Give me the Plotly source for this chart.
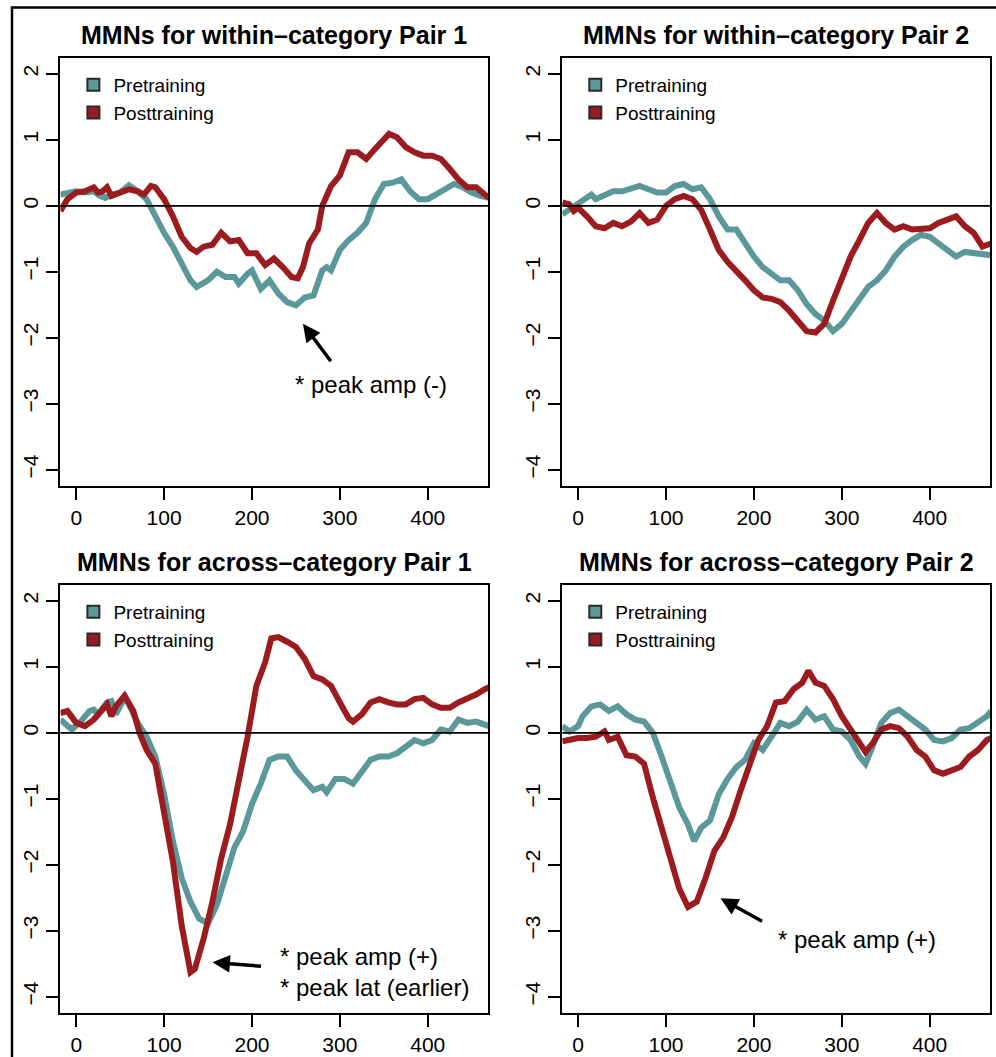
import plotly.graph_objects as go

# ---------------- data (time in ms, amplitude in microvolts) ----------------
p1_pre_t = [-18, -10, 0, 10, 20, 27, 33, 40, 50, 60, 70, 80, 90, 95, 100, 110, 120, 130, 137, 150, 160, 170, 180, 185, 195, 200, 210, 220, 230, 240, 250, 260, 270, 280, 285, 290, 300, 310, 320, 330, 340, 350, 360, 370, 380, 390, 400, 410, 420, 430, 440, 450, 460, 470]
p1_pre_v = [0.17, 0.2, 0.22, 0.2, 0.22, 0.15, 0.12, 0.17, 0.2, 0.31, 0.22, 0.1, -0.16, -0.31, -0.41, -0.62, -0.87, -1.13, -1.23, -1.13, -1.0, -1.08, -1.08, -1.18, -1.03, -0.98, -1.26, -1.13, -1.33, -1.46, -1.51, -1.39, -1.36, -0.98, -0.93, -0.98, -0.67, -0.52, -0.41, -0.26, 0.1, 0.33, 0.35, 0.4, 0.22, 0.1, 0.1, 0.17, 0.25, 0.33, 0.28, 0.2, 0.15, 0.12]

p1_post_t = [-18, -10, 0, 10, 20, 25, 30, 35, 40, 50, 60, 70, 77, 85, 90, 100, 110, 120, 130, 137, 145, 155, 165, 175, 185, 195, 205, 215, 225, 235, 245, 252, 258, 265, 275, 280, 290, 300, 310, 320, 330, 340, 350, 356, 365, 375, 385, 395, 405, 415, 425, 435, 445, 455, 465, 470]
p1_post_v = [-0.08, 0.1, 0.2, 0.22, 0.28, 0.2, 0.22, 0.28, 0.15, 0.2, 0.25, 0.22, 0.17, 0.3, 0.28, 0.1, -0.16, -0.47, -0.64, -0.7, -0.62, -0.59, -0.41, -0.54, -0.52, -0.72, -0.72, -0.9, -0.8, -0.93, -1.08, -1.1, -0.93, -0.57, -0.36, 0.0, 0.3, 0.46, 0.81, 0.81, 0.71, 0.86, 1.02, 1.09, 1.04, 0.89, 0.81, 0.76, 0.76, 0.71, 0.56, 0.4, 0.28, 0.28, 0.17, 0.12]

p2_pre_t = [-18, -10, 0, 10, 15, 20, 30, 40, 50, 60, 70, 80, 90, 100, 110, 120, 130, 140, 150, 160, 170, 180, 190, 200, 210, 220, 230, 240, 250, 260, 270, 280, 290, 300, 310, 320, 330, 340, 350, 360, 370, 380, 390, 400, 410, 420, 430, 440, 450, 460, 470]
p2_pre_v = [-0.13, -0.06, 0.02, 0.1, 0.17, 0.1, 0.17, 0.22, 0.22, 0.25, 0.3, 0.25, 0.2, 0.2, 0.3, 0.33, 0.25, 0.28, 0.1, -0.16, -0.36, -0.36, -0.57, -0.77, -0.93, -1.03, -1.13, -1.13, -1.28, -1.49, -1.64, -1.74, -1.9, -1.79, -1.59, -1.39, -1.23, -1.13, -0.98, -0.77, -0.62, -0.52, -0.44, -0.47, -0.57, -0.67, -0.77, -0.7, -0.72, -0.72, -0.75]

p2_post_t = [-18, -10, -5, 0, 10, 20, 30, 40, 50, 60, 70, 80, 90, 100, 110, 120, 130, 140, 150, 160, 170, 180, 190, 200, 210, 220, 230, 240, 250, 260, 270, 280, 290, 300, 310, 320, 330, 340, 350, 360, 370, 380, 390, 400, 410, 420, 430, 440, 450, 460, 470]
p2_post_v = [0.05, 0.02, -0.08, -0.03, -0.16, -0.31, -0.34, -0.26, -0.31, -0.24, -0.11, -0.26, -0.21, 0.0, 0.1, 0.15, 0.1, -0.06, -0.36, -0.67, -0.85, -0.98, -1.13, -1.28, -1.39, -1.41, -1.46, -1.59, -1.74, -1.9, -1.92, -1.79, -1.44, -1.08, -0.77, -0.52, -0.26, -0.11, -0.26, -0.36, -0.31, -0.36, -0.36, -0.34, -0.26, -0.21, -0.16, -0.31, -0.41, -0.62, -0.57]

p3_pre_t = [-18, -10, -5, 5, 15, 20, 25, 35, 40, 45, 55, 60, 70, 80, 90, 100, 110, 120, 130, 140, 150, 160, 170, 180, 190, 200, 210, 220, 230, 240, 250, 260, 270, 280, 285, 295, 305, 315, 325, 335, 345, 355, 365, 375, 385, 395, 405, 415, 425, 435, 445, 455, 465, 470]
p3_pre_v = [0.2, 0.1, 0.05, 0.17, 0.33, 0.35, 0.28, 0.46, 0.48, 0.28, 0.53, 0.43, 0.15, -0.06, -0.36, -0.93, -1.64, -2.2, -2.56, -2.82, -2.89, -2.61, -2.15, -1.74, -1.49, -1.08, -0.77, -0.41, -0.36, -0.36, -0.57, -0.72, -0.87, -0.82, -0.9, -0.7, -0.7, -0.77, -0.57, -0.41, -0.36, -0.36, -0.31, -0.21, -0.11, -0.16, -0.11, 0.05, 0.02, 0.2, 0.15, 0.17, 0.12, 0.1]

p3_post_t = [-18, -10, 0, 10, 20, 30, 35, 40, 45, 55, 65, 72, 80, 90, 100, 110, 120, 130, 135, 145, 155, 165, 175, 185, 195, 205, 215, 222, 230, 240, 250, 260, 270, 280, 290, 300, 310, 315, 325, 335, 345, 355, 365, 375, 385, 395, 405, 415, 425, 435, 445, 455, 465, 470]
p3_post_v = [0.3, 0.33, 0.15, 0.1, 0.2, 0.35, 0.43, 0.25, 0.4, 0.56, 0.33, 0.0, -0.26, -0.47, -1.18, -1.95, -2.92, -3.63, -3.58, -3.12, -2.56, -1.9, -1.39, -0.77, -0.06, 0.71, 1.07, 1.43, 1.45, 1.38, 1.3, 1.12, 0.86, 0.81, 0.71, 0.46, 0.22, 0.17, 0.28, 0.46, 0.51, 0.46, 0.43, 0.43, 0.51, 0.53, 0.43, 0.38, 0.38, 0.46, 0.51, 0.58, 0.66, 0.69]

p4_pre_t = [-18, -10, 0, 5, 15, 25, 35, 45, 55, 65, 75, 85, 95, 105, 115, 125, 132, 140, 150, 160, 170, 180, 190, 200, 210, 220, 230, 240, 250, 260, 270, 280, 290, 300, 310, 320, 327, 335, 345, 355, 365, 375, 385, 395, 405, 415, 425, 435, 445, 455, 465, 470]
p4_pre_v = [0.1, 0.02, 0.1, 0.25, 0.4, 0.43, 0.33, 0.4, 0.28, 0.2, 0.17, 0.0, -0.36, -0.77, -1.13, -1.39, -1.64, -1.44, -1.33, -0.93, -0.7, -0.52, -0.41, -0.16, -0.26, -0.06, 0.15, 0.1, 0.17, 0.35, 0.2, 0.25, 0.05, 0.02, -0.11, -0.36, -0.47, -0.21, 0.15, 0.3, 0.35, 0.25, 0.15, 0.05, -0.11, -0.13, -0.08, 0.05, 0.07, 0.15, 0.25, 0.33]

p4_post_t = [-18, 0, 10, 20, 30, 35, 45, 55, 65, 75, 85, 95, 105, 115, 125, 135, 145, 155, 165, 175, 185, 195, 205, 215, 225, 235, 245, 255, 262, 270, 280, 290, 300, 310, 320, 327, 335, 345, 355, 365, 375, 385, 395, 405, 415, 425, 435, 445, 455, 465, 470]
p4_post_v = [-0.13, -0.08, -0.08, -0.06, 0.02, -0.11, -0.06, -0.34, -0.36, -0.47, -0.98, -1.44, -1.9, -2.36, -2.64, -2.56, -2.2, -1.79, -1.59, -1.28, -0.87, -0.47, -0.11, 0.1, 0.46, 0.48, 0.66, 0.76, 0.94, 0.76, 0.71, 0.51, 0.25, 0.05, -0.16, -0.29, -0.16, 0.05, 0.1, 0.07, -0.06, -0.26, -0.36, -0.57, -0.62, -0.57, -0.52, -0.36, -0.26, -0.11, -0.08]

panel_titles = ["MMNs for within\u2013category Pair 1", "MMNs for within\u2013category Pair 2",
                "MMNs for across\u2013category Pair 1", "MMNs for across\u2013category Pair 2"]
series_names = ["Pretraining", "Posttraining"]
x_ticks = [0, 100, 200, 300, 400]
y_ticks = [-4, -3, -2, -1, 0, 1, 2]

panels = [
    (p1_pre_t, p1_pre_v, p1_post_t, p1_post_v),
    (p2_pre_t, p2_pre_v, p2_post_t, p2_post_v),
    (p3_pre_t, p3_pre_v, p3_post_t, p3_post_v),
    (p4_pre_t, p4_pre_v, p4_post_t, p4_post_v),
]

# ---------------- styling / layout ----------------
W, H = 996, 1057
TEAL = "#5A9899"
RED = "#9C1B1F"
FONT = "Liberation Sans, Arial, Helvetica, sans-serif"

def fx(px):
    return px / W

def fy(py):
    return 1 - py / H

col_px = [(60.4, 488.0), (562.3, 990.0)]
row_px = [(58.0, 485.5), (585.0, 1012.5)]

fig = go.Figure()
layout = dict(
    width=W, height=H, margin=dict(l=0, r=0, t=0, b=0),
    paper_bgcolor="white", plot_bgcolor="white",
    font=dict(family=FONT, color="black"),
    showlegend=True,
)
annotations = []
shapes = []

for i, (pt, pv, qt, qv) in enumerate(panels):
    r, c = divmod(i, 2)
    n = i + 1
    xa = "x" if n == 1 else f"x{n}"
    ya = "y" if n == 1 else f"y{n}"
    xkey = "xaxis" if n == 1 else f"xaxis{n}"
    ykey = "yaxis" if n == 1 else f"yaxis{n}"
    lkey = "legend" if n == 1 else f"legend{n}"
    x0p, x1p = col_px[c]
    y0p, y1p = row_px[r]

    layout[xkey] = dict(
        domain=[fx(x0p), fx(x1p)], anchor=ya, range=[-18, 468.6],
        tickvals=x_ticks, ticks="outside", ticklen=12, tickwidth=1.5, tickcolor="black",
        showline=True, linecolor="black", linewidth=2, mirror=True,
        showgrid=False, zeroline=False,
        tickfont=dict(size=21, family=FONT, color="black"),
    )
    layout[ykey] = dict(
        domain=[fy(y1p), fy(y0p)], anchor=xa, range=[-4.24, 2.24],
        tickvals=y_ticks, ticktext=[("\u2212" + str(-v)) if v < 0 else str(v) for v in y_ticks],
        ticks="outside", ticklen=12, tickwidth=1.5, tickcolor="black", tickangle=-90,
        showline=True, linecolor="black", linewidth=2, mirror=True,
        showgrid=False, zeroline=False,
        tickfont=dict(size=21, family=FONT, color="black"),
    )
    layout[lkey] = dict(
        x=fx(x0p + 13), y=fy(y0p + 8), xanchor="left", yanchor="top",
        bgcolor="rgba(0,0,0,0)", borderwidth=0,
        font=dict(size=19, family=FONT, color="black"),
        tracegroupgap=0, itemsizing="constant",
    )

    fig.add_trace(go.Scatter(x=pt, y=pv, mode="lines", line=dict(color=TEAL, width=6),
                             xaxis=xa, yaxis=ya, showlegend=False, hoverinfo="skip"))
    fig.add_trace(go.Scatter(x=qt, y=qv, mode="lines", line=dict(color=RED, width=6),
                             xaxis=xa, yaxis=ya, showlegend=False, hoverinfo="skip"))
    # legend keys (filled squares)
    for name, colr in zip(series_names, [TEAL, RED]):
        fig.add_trace(go.Scatter(x=[None], y=[None], mode="markers", name=name,
                                 marker=dict(symbol="square", size=16, color=colr,
                                             line=dict(color="#2a2a2a", width=1.5)),
                                 xaxis=xa, yaxis=ya, legend=lkey))

    # zero line on top of the curves
    shapes.append(dict(type="line", xref=f"{xa} domain", yref=ya, x0=0, x1=1, y0=0, y1=0,
                       line=dict(color="black", width=1.8), layer="above"))

    # panel title
    annotations.append(dict(text=f"<b>{panel_titles[i]}</b>", xref="paper", yref="paper",
                            x=fx((x0p + x1p) / 2), y=fy(y0p - 23), xanchor="center", yanchor="middle",
                            showarrow=False, font=dict(size=25, family=FONT, color="black")))

# arrows and their labels
arrow_specs = [
    # (axis suffix, head x, head y, tail x, tail y)
    ("", 258, -1.79, 291, -2.38),
    ("3", 155, -3.48, 212, -3.54),
    ("4", 162, -2.51, 211, -2.87),
]
for suf, hx, hy, tx, ty in arrow_specs:
    annotations.append(dict(text="", x=hx, y=hy, ax=tx, ay=ty, xref="x" + suf, yref="y" + suf,
                            axref="x" + suf, ayref="y" + suf, showarrow=True,
                            arrowhead=2, arrowsize=1.0, arrowwidth=3.5, arrowcolor="black"))

label_specs = [
    ("", 336, -2.71, "center", "* peak amp (-)"),
    ("3", 230, -3.62, "left", "* peak amp (+)<br>* peak lat (earlier)"),
    ("4", 317, -3.14, "center", "* peak amp (+)"),
]
for suf, lx, ly, anc, txt in label_specs:
    annotations.append(dict(text=txt, x=lx, y=ly, xref="x" + suf, yref="y" + suf,
                            xanchor=anc, yanchor="middle", align="left", showarrow=False,
                            font=dict(size=24, family=FONT, color="black")))

# outer frame of the figure (cropped on the right and bottom)
shapes.append(dict(type="rect", xref="paper", yref="paper",
                   x0=fx(12), x1=fx(1010), y0=fy(1070), y1=fy(7.5),
                   line=dict(color="black", width=2.5), fillcolor="rgba(0,0,0,0)", layer="above"))

layout["annotations"] = annotations
layout["shapes"] = shapes
fig.update_layout(**layout)

fig.write_html("out.html", config={"displayModeBar": False},
               post_script="document.body.style.margin='0';document.body.style.overflow='hidden';")
